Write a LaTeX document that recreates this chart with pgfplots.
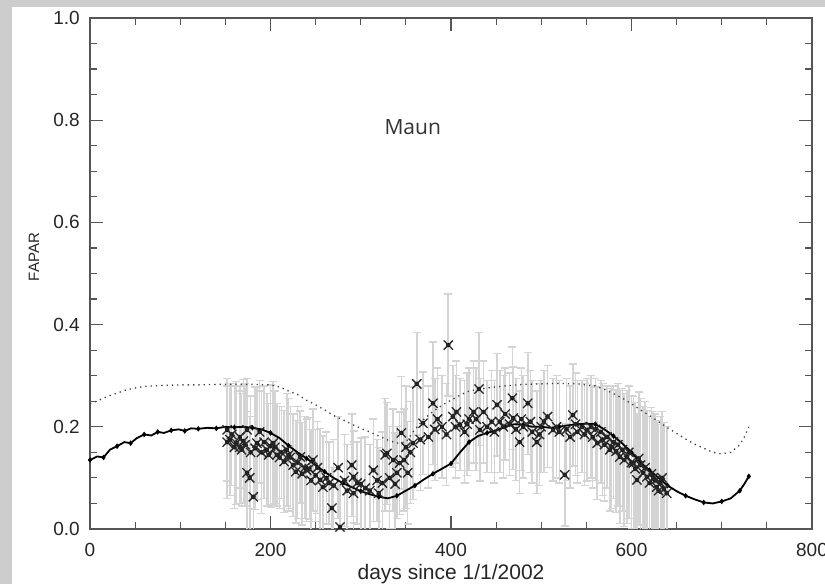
\documentclass[border=0pt]{standalone}
\usepackage{pgfplots}
\pgfplotsset{compat=1.18}
\usepackage{pgfplotstable}
\usepackage{fontspec}
\setmainfont{Liberation Sans}
\newfontfamily\titlefont{Open Sans}
\definecolor{barc}{RGB}{212,212,212}
\definecolor{framec}{RGB}{205,205,205}
\definecolor{axc}{RGB}{85,85,85}

\pgfplotstableread{
x y
0 0.135
8 0.142
15 0.140
22 0.155
30 0.162
38 0.170
45 0.168
52 0.178
60 0.185
68 0.183
75 0.190
82 0.188
90 0.193
98 0.195
105 0.192
112 0.197
120 0.196
130 0.198
140 0.197
150 0.200
160 0.199
170 0.200
180 0.198
190 0.195
200 0.188
210 0.178
220 0.163
230 0.150
240 0.138
250 0.125
260 0.112
270 0.100
280 0.090
290 0.082
300 0.074
310 0.068
320 0.063
330 0.060
340 0.065
350 0.075
360 0.085
370 0.097
380 0.108
390 0.118
400 0.128
410 0.150
420 0.170
430 0.182
440 0.188
450 0.193
460 0.200
470 0.205
480 0.204
490 0.200
500 0.200
510 0.198
520 0.200
530 0.203
540 0.205
550 0.206
560 0.205
570 0.195
580 0.182
590 0.167
600 0.150
610 0.130
620 0.115
630 0.100
640 0.085
650 0.074
660 0.065
670 0.058
680 0.052
690 0.050
700 0.054
710 0.060
720 0.075
725 0.088
730 0.103
}\model

\pgfplotstableread{
x y
0 0.245
10 0.252
20 0.260
30 0.266
40 0.272
50 0.276
60 0.279
80 0.281
100 0.282
120 0.282
140 0.283
160 0.283
180 0.283
200 0.282
210 0.278
220 0.270
230 0.263
240 0.252
250 0.243
260 0.233
270 0.222
280 0.214
290 0.205
300 0.197
310 0.190
320 0.182
330 0.174
340 0.168
350 0.170
360 0.195
370 0.215
380 0.230
390 0.242
400 0.252
410 0.262
420 0.270
440 0.276
460 0.280
480 0.283
500 0.284
520 0.285
540 0.284
560 0.280
570 0.273
580 0.265
590 0.256
600 0.245
610 0.233
620 0.222
630 0.210
640 0.198
650 0.187
660 0.176
670 0.166
680 0.158
690 0.150
700 0.147
710 0.150
720 0.165
725 0.180
730 0.200
}\upper

\pgfplotstableread{
x y e
152 0.194 0.10
152 0.170 0.11
155 0.175 0.11
157 0.185 0.10
160 0.160 0.12
162 0.168 0.12
166 0.180 0.10
166 0.160 0.11
168 0.155 0.11
170 0.172 0.12
172 0.165 0.12
174 0.194 0.10
174 0.110 0.12
177 0.100 0.12
178 0.150 0.11
181 0.063 0.10
183 0.158 0.12
185 0.168 0.11
188 0.190 0.10
190 0.150 0.12
193 0.170 0.11
196 0.155 0.11
198 0.145 0.10
200 0.162 0.12
203 0.168 0.12
205 0.160 0.11
207 0.145 0.10
210 0.140 0.10
212 0.150 0.09
215 0.132 0.10
218 0.155 0.11
220 0.145 0.11
222 0.140 0.10
225 0.125 0.10
228 0.112 0.10
230 0.130 0.11
233 0.141 0.09
235 0.108 0.10
238 0.120 0.10
240 0.115 0.10
243 0.118 0.10
245 0.095 0.10
247 0.135 0.10
250 0.105 0.09
252 0.120 0.09
255 0.096 0.10
258 0.082 0.10
262 0.100 0.09
265 0.090 0.08
268 0.041 0.08
270 0.085 0.09
275 0.120 0.10
277 0.004 0.08
282 0.095 0.09
285 0.075 0.09
290 0.125 0.10
292 0.102 0.09
292 0.070 0.10
296 0.090 0.08
300 0.088 0.09
305 0.080 0.10
310 0.075 0.09
314 0.115 0.10
318 0.095 0.08
320 0.070 0.09
324 0.090 0.10
327 0.145 0.11
329 0.148 0.10
332 0.100 0.10
336 0.135 0.10
338 0.088 0.10
340 0.110 0.09
343 0.129 0.10
345 0.188 0.11
348 0.135 0.10
350 0.160 0.12
352 0.110 0.10
355 0.150 0.10
358 0.168 0.11
362 0.284 0.10
366 0.175 0.10
369 0.207 0.10
375 0.180 0.10
380 0.246 0.12
382 0.195 0.10
385 0.215 0.10
390 0.200 0.10
395 0.185 0.10
397 0.360 0.10
402 0.220 0.10
405 0.200 0.10
406 0.229 0.10
410 0.204 0.09
415 0.190 0.10
418 0.205 0.10
420 0.215 0.10
425 0.229 0.10
428 0.215 0.10
431 0.274 0.11
432 0.194 0.10
436 0.229 0.10
440 0.200 0.09
445 0.210 0.10
448 0.190 0.10
451 0.243 0.10
454 0.210 0.10
458 0.200 0.10
460 0.225 0.09
465 0.205 0.10
468 0.256 0.10
469 0.217 0.10
472 0.195 0.10
476 0.170 0.10
478 0.215 0.10
480 0.200 0.10
485 0.246 0.10
488 0.210 0.10
490 0.190 0.10
495 0.170 0.10
498 0.185 0.10
500 0.200 0.09
503 0.210 0.10
507 0.220 0.10
513 0.194 0.10
517 0.200 0.10
520 0.190 0.10
526 0.106 0.10
528 0.195 0.10
532 0.180 0.10
535 0.223 0.10
538 0.205 0.10
540 0.190 0.10
545 0.200 0.09
548 0.185 0.10
551 0.194 0.10
555 0.200 0.10
557 0.180 0.10
560 0.195 0.10
562 0.168 0.11
566 0.190 0.10
568 0.175 0.11
570 0.165 0.11
573 0.180 0.10
576 0.155 0.12
578 0.160 0.12
580 0.170 0.11
583 0.152 0.12
585 0.165 0.12
587 0.141 0.13
590 0.155 0.12
592 0.135 0.13
595 0.141 0.13
597 0.150 0.13
600 0.130 0.13
602 0.129 0.13
604 0.118 0.13
606 0.096 0.13
608 0.138 0.13
610 0.125 0.13
613 0.110 0.13
615 0.120 0.13
617 0.102 0.13
620 0.090 0.13
622 0.108 0.13
624 0.100 0.13
626 0.095 0.13
628 0.082 0.13
630 0.075 0.13
632 0.090 0.13
634 0.100 0.13
636 0.078 0.13
639 0.070 0.13
}\obs

\begin{document}
\begin{tikzpicture}
\useasboundingbox (0,0) rectangle (825bp,584bp);
\fill[framec] (0,0) rectangle (825bp,584bp);
\fill[white] (12bp,0) rectangle (825bp,577bp);
\begin{axis}[
  at={(90bp,55bp)}, anchor=south west,
  scale only axis, width=722bp, height=511bp,
  xmin=0, xmax=800, ymin=0, ymax=1,
  xtick={0,200,400,600,800},
  ytick={0,0.2,0.4,0.6,0.8,1.0},
  minor x tick num=3, minor y tick num=3,
  tick align=inside,
  major tick length=13bp, minor tick length=7bp,
  axis line style={draw=axc, line width=1.5bp},
  every tick/.style={draw=axc, line width=1.2bp},
  /pgf/number format/assume math mode=true,
  xticklabel style={font=\fontsize{19bp}{22bp}\selectfont, anchor=center, inner sep=0pt, yshift=-21bp, text=black!85},
  yticklabel style={font=\fontsize{19bp}{22bp}\selectfont, anchor=east, inner sep=0pt, xshift=-10bp, text=black!85,
    /pgf/number format/.cd, fixed, fixed zerofill, precision=1},
  xlabel={days since 1/1/2002},
  xlabel style={font=\fontsize{21bp}{24bp}\selectfont, at={(axis description cs:0.5,-0.088)}, anchor=center, inner sep=0pt, text=black!85},
  ylabel={FAPAR},
  ylabel style={font=\fontsize{15bp}{17bp}\selectfont, at={(axis description cs:-0.0776,0.532)}, anchor=center, inner sep=0pt, rotate=0, text=black!85},
  clip=true,
]
\addplot[only marks, mark=none,
  error bars/.cd, y dir=both, y explicit,
  error bar style={draw=barc, line width=1.6bp},
  error mark options={draw=barc, line width=1.3bp, mark size=4bp, rotate=90}]
  table[x=x, y=y, y error=e] {\obs};
\addplot[black!75, line width=1.3bp, dash pattern=on 1.3bp off 4bp] table[x=x,y=y] {\upper};
\addplot[black, line width=1.8bp, mark=diamond*, mark size=1.4bp, mark repeat=2] table[x=x,y=y] {\model};
\addplot[only marks, mark=x, mark size=6.5bp, mark options={black!85, line width=1.3bp}] table[x=x,y=y] {\obs};
\node[font=\titlefont\fontsize{21bp}{24bp}\selectfont, text=black!80] at (axis description cs:0.447,0.787) {Maun};
\end{axis}
\end{tikzpicture}
\end{document}
